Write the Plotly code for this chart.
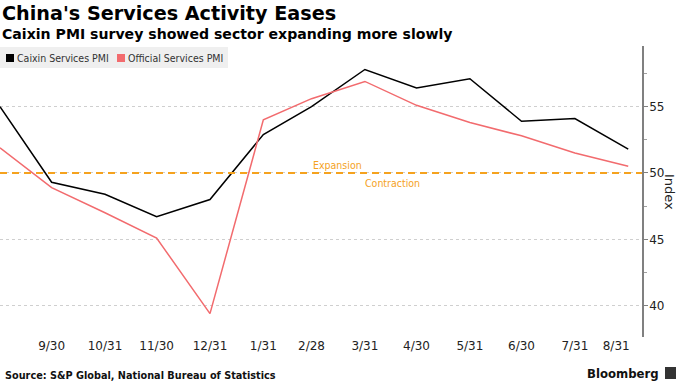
import plotly.graph_objects as go
import pandas as pd

# ---- data ----
dates = ["2022-08-31", "2022-09-30", "2022-10-31", "2022-11-30", "2022-12-31",
         "2023-01-31", "2023-02-28", "2023-03-31", "2023-04-30", "2023-05-31",
         "2023-06-30", "2023-07-31", "2023-08-31"]
caixin = [55.0, 49.3, 48.4, 46.7, 48.0, 52.9, 55.0, 57.8, 56.4, 57.1, 53.9, 54.1, 51.8]
official = [51.9, 48.9, 47.0, 45.1, 39.4, 54.0, 55.6, 56.9, 55.1, 53.8, 52.8, 51.5, 50.5]
series_names = ["Caixin Services PMI", "Official Services PMI"]
series_colors = ["#000000", "#f26b6e"]
tick_dates = dates[1:]
tick_labels = ["9/30", "10/31", "11/30", "12/31", "1/31", "2/28", "3/31",
               "4/30", "5/31", "6/30", "7/31", "8/31"]
y_ticks = [40, 45, 50, 55]
threshold = 50

W, H = 680, 383
ML, MR, MT, MB = 0, 38, 46, 46
PH = H - MT - MB
PW = W - ML - MR

def py(p):  # pixel y -> paper y
    return (H - MB - p) / PH

def px(p):  # pixel x -> paper x
    return (p - ML) / PW

FONT = "DejaVu Sans"
COND = "DejaVu Sans Condensed, DejaVu Sans"
ORANGE = "#f5a21e"

fig = go.Figure()
for name, vals, col in zip(series_names, [caixin, official], series_colors):
    fig.add_trace(go.Scatter(x=pd.to_datetime(dates), y=vals, mode="lines", name=name,
                             line=dict(color=col, width=1.5), showlegend=False))

# shift last tick label slightly left, as in the original layout
tick_pos = list(pd.to_datetime(tick_dates))
tick_pos[-1] = tick_pos[-1] - pd.Timedelta(days=7)

fig.update_xaxes(type="date", range=["2022-08-31", "2023-09-08"],
                 tickvals=tick_pos, ticktext=tick_labels, showgrid=False,
                 zeroline=False, showline=False, ticks="",
                 tickfont=dict(family=FONT, size=12, color="#222"))
fig.update_yaxes(side="right", range=[37.64, 59.57], tickvals=y_ticks,
                 showgrid=True, gridcolor="#cfcfcf", griddash="dot", gridwidth=1,
                 showline=True, linecolor="#808080", linewidth=1.5,
                 ticks="outside", ticklen=4, tickcolor="#808080", tickwidth=1,
                 ticklabelstandoff=-1,
                 minor=dict(ticks="outside", ticklen=3, dtick=2.5, tick0=0,
                            tickcolor="#a0a0a0", showgrid=False),
                 zeroline=False, tickfont=dict(family=FONT, size=12, color="#222"))

shapes = [
    dict(type="line", xref="paper", x0=0, x1=1, yref="y", y0=threshold, y1=threshold,
         line=dict(color=ORANGE, width=2, dash="7px,5px"), layer="above"),
    # legend box
    dict(type="rect", xref="paper", yref="paper", x0=px(0), x1=px(228), y0=py(68), y1=py(47),
         fillcolor="#efefef", line=dict(width=0), layer="below"),
]
annotations = [
    dict(text="<b>China's Services Activity Eases</b>", xref="paper", yref="paper",
         x=0, y=py(14), xanchor="left", yanchor="middle", showarrow=False,
         font=dict(family=FONT, size=19.2, color="#000")),
    dict(text="<b>Caixin PMI survey showed sector expanding more slowly</b>", xref="paper", yref="paper",
         x=0, y=py(34), xanchor="left", yanchor="middle", showarrow=False,
         font=dict(family=FONT, size=14.1, color="#000")),
    dict(text="Expansion", xref="paper", yref="paper", x=px(337), y=py(165),
         xanchor="center", yanchor="middle", showarrow=False,
         font=dict(family=COND, size=10.5, color=ORANGE)),
    dict(text="Contraction", xref="paper", yref="paper", x=px(392), y=py(183),
         xanchor="center", yanchor="middle", showarrow=False,
         font=dict(family=COND, size=10.5, color=ORANGE)),
    dict(text="Index", xref="paper", yref="paper", x=px(670), y=py(192),
         xanchor="center", yanchor="middle", showarrow=False, textangle=90,
         font=dict(family=FONT, size=13, color="#222")),
    dict(text="<b>Source: S&P Global, National Bureau of Statistics</b>", xref="paper", yref="paper",
         x=px(3), y=py(375), xanchor="left", yanchor="middle", showarrow=False,
         font=dict(family=COND, size=10.8, color="#111")),
    dict(text="<b>Bloomberg</b>", xref="paper", yref="paper",
         x=px(661), y=py(373), xanchor="right", yanchor="middle", showarrow=False,
         font=dict(family=COND, size=13, color="#111")),
]
# manual legend
leg_sq_x = [6, 117]
leg_tx_x = [15, 126]
for name, col, sx, tx in zip(series_names, series_colors, leg_sq_x, leg_tx_x):
    shapes.append(dict(type="rect", xref="paper", yref="paper", x0=px(sx), x1=px(sx + 8),
                       y0=py(62), y1=py(54), fillcolor=col, line=dict(width=0)))
    annotations.append(dict(text=name, xref="paper", yref="paper", x=px(tx), y=py(58),
                            xanchor="left", yanchor="middle", showarrow=False,
                            font=dict(family=COND, size=10.5, color="#333")))
# Bloomberg icon
shapes.append(dict(type="rect", xref="paper", yref="paper", x0=px(665), x1=px(676),
                   y0=py(379), y1=py(367), fillcolor="#333", line=dict(width=0)))

fig.update_layout(width=W, height=H, margin=dict(l=ML, r=MR, t=MT, b=MB),
                  paper_bgcolor="white", plot_bgcolor="white",
                  shapes=shapes, annotations=annotations, showlegend=False)

fig.write_html("out.html", config={"displayModeBar": False},
               post_script="document.body.style.margin='0';document.body.style.overflow='hidden';")
